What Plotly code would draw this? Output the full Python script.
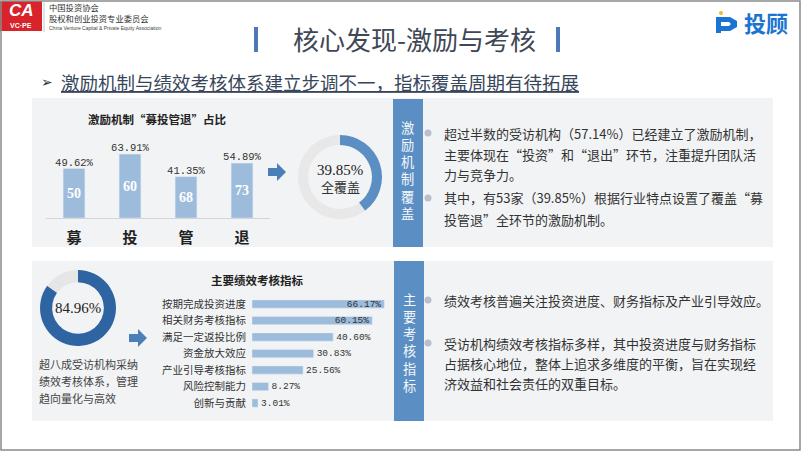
import plotly.graph_objects as go

W, H = 802, 451
def X(p): return p / W
def Y(p): return 1 - p / H

# ---------------- data ----------------
stage_labels = ["募", "投", "管", "退"]
stage_pct = [49.62, 63.91, 41.35, 54.89]
stage_counts = [50, 60, 68, 73]
full_cover_pct = 39.85

kpi_labels = ["按期完成投资进度", "相关财务考核指标", "满足一定返投比例", "资金放大效应",
              "产业引导考核指标", "风险控制能力", "创新与贡献"]
kpi_pct = [66.17, 60.15, 40.60, 30.83, 25.56, 8.27, 3.01]
kpi_adopt_pct = 84.96

CJK = "Noto Sans CJK SC"
BAR_C = "#9dbcdc"
BLUE = "#5b8fc4"

fig = go.Figure()

# vertical bars
fig.add_trace(go.Bar(
    x=stage_labels, y=stage_pct, width=0.39, marker=dict(color=BAR_C),
    text=[str(c) for c in stage_counts], textposition="inside", insidetextanchor="middle",
    constraintext="none",
    textfont=dict(family="Liberation Serif", size=14, color="white", weight="bold"),
    xaxis="x", yaxis="y", hoverinfo="skip"))
fig.add_trace(go.Scatter(
    x=stage_labels, y=stage_pct, mode="text", text=[f"{v:.2f}%" for v in stage_pct],
    textposition="top center",
    textfont=dict(family="Liberation Mono", size=10.5, color="#333333"),
    xaxis="x", yaxis="y", hoverinfo="skip"))

# donut 1
fig.add_trace(go.Pie(
    values=[full_cover_pct, 100 - full_cover_pct], hole=0.76, sort=False,
    direction="counterclockwise", rotation=0, textinfo="none", hoverinfo="skip",
    marker=dict(colors=[BLUE, "#e8e8e8"]),
    domain=dict(x=[X(298), X(382)], y=[Y(219), Y(135)])))

# horizontal bars
fig.add_trace(go.Bar(
    y=kpi_labels, x=kpi_pct, orientation="h", width=0.5, marker=dict(color=BAR_C),
    text=[f"{v:.2f}%" for v in kpi_pct],
    textposition=["inside", "inside", "outside", "outside", "outside", "outside", "outside"],
    insidetextanchor="end", cliponaxis=False, constraintext="none",
    textfont=dict(family="Liberation Mono", size=9.5, color="#333333"),
    xaxis="x2", yaxis="y2", hoverinfo="skip"))

# donut 2
fig.add_trace(go.Pie(
    values=[kpi_adopt_pct, 100 - kpi_adopt_pct], hole=0.68, sort=False,
    direction="counterclockwise", rotation=0, textinfo="none", hoverinfo="skip",
    marker=dict(colors=["#2f64a2", "#e6e6e6"]),
    domain=dict(x=[X(40), X(116)], y=[Y(346), Y(270)])))

shapes = []
def rect(x0, y0, x1, y1, fill, layer="below"):
    shapes.append(dict(type="rect", xref="paper", yref="paper", x0=X(x0), x1=X(x1),
                       y0=Y(y1), y1=Y(y0), fillcolor=fill,
                       line=dict(width=0, color=fill), layer=layer))

# panels
rect(32, 98, 773, 247, "#f2f3f5")
rect(32, 261, 773, 421, "#f2f3f5")
rect(393, 99, 423, 247, BLUE)
rect(394, 261, 424, 421, BLUE)
# logo red box
rect(0, 1, 42, 31, "#d8232a")
# title bars
rect(254, 27, 258, 52, "#4a7ab8")
rect(556, 27, 560, 52, "#4a7ab8")
# separator after logo
shapes.append(dict(type="line", xref="paper", yref="paper", x0=X(44), x1=X(44), y0=Y(2), y1=Y(32),
                   line=dict(color="#c8c8c8", width=1)))
# frame
shapes.append(dict(type="rect", xref="paper", yref="paper", x0=X(1), x1=X(800), y0=Y(450), y1=Y(1),
                   line=dict(color="#8a8a8a", width=1.5), fillcolor="rgba(0,0,0,0)", layer="above"))

def arrow(x0, yc, color="#4a7fb8"):
    pts = [(x0, yc - 4), (x0 + 9, yc - 4), (x0 + 9, yc - 9), (x0 + 18, yc), (x0 + 9, yc + 9),
           (x0 + 9, yc + 4), (x0, yc + 4)]
    path = "M " + " L ".join(f"{X(a):.5f},{Y(b):.5f}" for a, b in pts) + " Z"
    shapes.append(dict(type="path", xref="paper", yref="paper", path=path, fillcolor=color,
                       line=dict(width=0)))
arrow(268, 172)
arrow(129, 338)

def dot(xc, yc, r, color):
    shapes.append(dict(type="circle", xref="paper", yref="paper", x0=X(xc - r), x1=X(xc + r),
                       y0=Y(yc + r), y1=Y(yc - r), fillcolor=color, line=dict(width=0)))
for yb in [133, 198, 300, 343]:
    dot(428, yb, 3.5, "#b8c0cb")

# top-right logo icon
LOGO_B = "#1b74d1"
rect(716, 17, 721, 33, LOGO_B, layer="above")
icon = [(721, 17), (730, 17), (737, 21), (737, 27), (730, 31), (721, 31), (721, 26), (729, 26),
        (731, 24), (729, 22), (721, 22)]
shapes.append(dict(type="path", xref="paper", yref="paper",
                   path="M " + " L ".join(f"{X(a):.5f},{Y(b):.5f}" for a, b in icon) + " Z",
                   fillcolor=LOGO_B, line=dict(width=0)))
dot(721, 13, 2, "#f2b92e")

ann = []
def txt(x, y, s, size, color="#333333", family=CJK, anchor="center", weight="normal", **kw):
    f = dict(family=family, size=size, color=color, weight=weight)
    f.update(kw.pop("font_extra", {}))
    ann.append(dict(x=X(x), y=Y(y), xref="paper", yref="paper", text=s, showarrow=False,
                    xanchor=anchor, yanchor="middle", font=f, borderpad=0, **kw))

# logo text
txt(21, 10, "<i>CA</i>", 17, "white", "Liberation Sans", weight="bold")
txt(21, 26, "VC·PE", 7, "white", "Liberation Sans", weight="bold")
txt(48, 13, "中国投资协会<br>股权和创业投资专业委员会", 8.3, "#333333", anchor="left", align="left")
txt(48, 28, "China Venture Capital & Private Equity Association", 5, "#444444",
    "Liberation Sans", anchor="left")
txt(766, 22, "投顾", 22, LOGO_B, weight="bold")

# title & subtitle
txt(414, 39, "核心发现-激励与考核", 26, "#3f4856")
txt(40, 82, "➢", 14, "#333333", "DejaVu Sans", anchor="left")
txt(60, 82, "激励机制与绩效考核体系建立步调不一，指标覆盖周期有待拓展", 18.5, "#37465a", anchor="left",
    font_extra=dict(lineposition="under"))

# chart titles
txt(157, 119, "激励机制“募投管退”占比", 11.5, "#222222", weight="bold")
txt(257, 280, "主要绩效考核指标", 11.5, "#222222", weight="bold")

# donut centers
txt(340, 170, "39.85%", 15, "#222222", "Liberation Serif")
txt(340, 187, "全覆盖", 13, "#333333")
txt(78, 308, "84.96%", 15, "#222222", "Liberation Serif")

# text under donut 2
for i, s in enumerate(["超八成受访机构采纳", "绩效考核体系，管理", "趋向量化与高效"]):
    txt(38, 364 + i * 17, s, 11, "#444444", anchor="left")

# vertical labels (one text block each)
txt(408, 170, "<br>".join("激励机制覆盖"), 13.2, "#f4f7fb")
txt(409, 342.5, "<br>".join("主要考核指标"), 13.2, "#f4f7fb")

# bullet text
top_lines = [(133, "超过半数的受访机构（57.14%）已经建立了激励机制，"),
             (154, "主要体现在“投资”和“退出”环节，注重提升团队活"),
             (175, "力与竞争力。"),
             (198, "其中，有53家（39.85%）根据行业特点设置了覆盖“募"),
             (219, "投管退”全环节的激励机制。")]
bot_lines = [(300, "绩效考核普遍关注投资进度、财务指标及产业引导效应。"),
             (343, "受访机构绩效考核指标多样，其中投资进度与财务指标"),
             (363, "占据核心地位，整体上追求多维度的平衡，旨在实现经"),
             (383, "济效益和社会责任的双重目标。")]
for y, s in top_lines + bot_lines:
    txt(443, y, s, 13, "#333333", anchor="left")

fig.update_layout(
    width=W, height=H, margin=dict(l=0, r=0, t=0, b=0),
    paper_bgcolor="white", plot_bgcolor="rgba(0,0,0,0)", showlegend=False,
    shapes=shapes, annotations=ann,
    xaxis=dict(domain=[X(46), X(270)], range=[-0.5, 3.5], type="category", anchor="y",
               showline=True, linecolor="#d4d4d4", linewidth=1, showgrid=False, ticks="",
               tickfont=dict(family=CJK, size=15, color="#222222", weight="bold"),
               ticklabelstandoff=6, fixedrange=True),
    yaxis=dict(domain=[Y(218), Y(118)], range=[0, 100], visible=False, anchor="x"),
    xaxis2=dict(domain=[X(252), X(392)], range=[0, 70], visible=False, anchor="y2"),
    yaxis2=dict(domain=[Y(411.25), Y(295.75)], range=[6.5, -0.5], type="category", anchor="x2",
                showline=False, showgrid=False, ticks="", ticklabelstandoff=5,
                tickfont=dict(family=CJK, size=10.5, color="#333333")),
)

fig.write_html("out.html", config={"displayModeBar": False},
               post_script="document.body.style.margin='0';document.body.style.overflow='hidden';")
